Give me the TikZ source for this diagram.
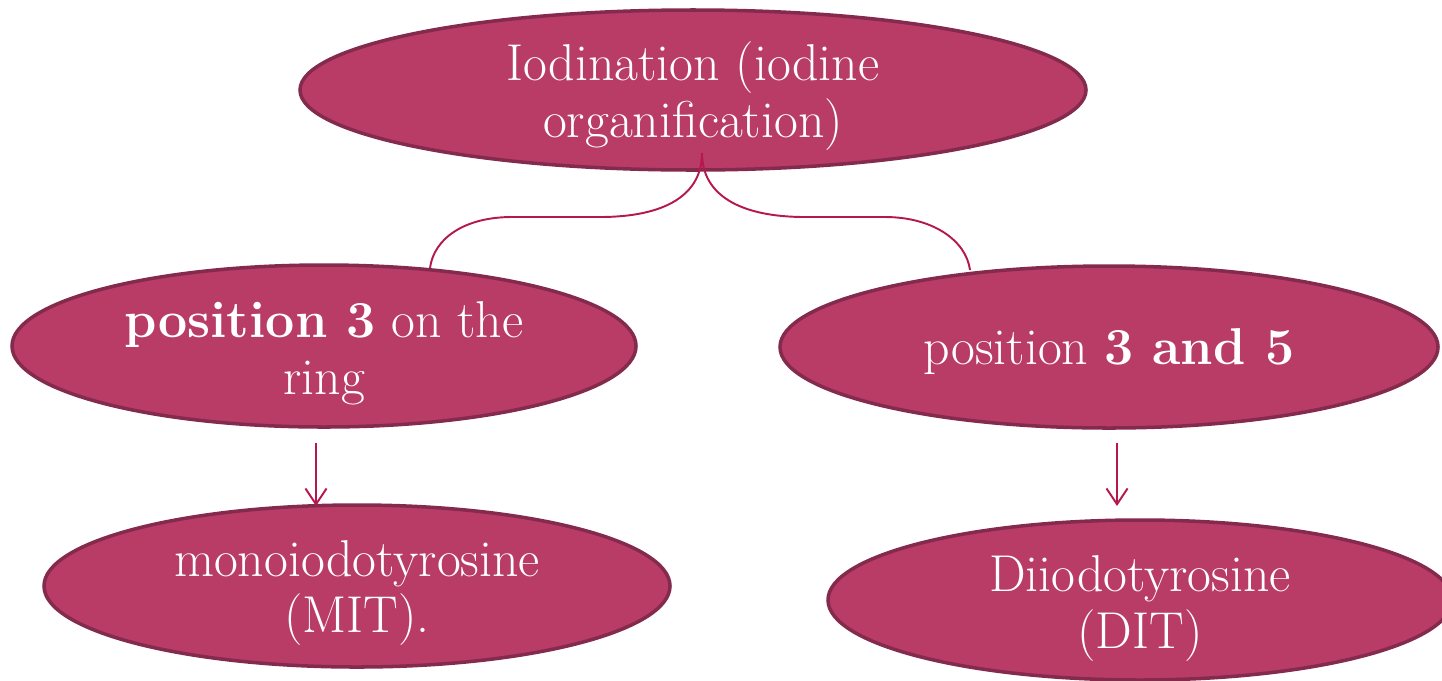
\documentclass[tikz,border=0pt]{standalone}
\usetikzlibrary{shapes.geometric,arrows.meta}
\definecolor{ellfill}{HTML}{B93C67}
\definecolor{elldraw}{HTML}{842A4D}
\definecolor{conn}{HTML}{B5174F}
\begin{document}
\begin{tikzpicture}[x=0.02cm,y=-0.02cm,
  ell/.style={ellipse, fill=ellfill, draw=elldraw, line width=2pt, inner sep=0pt},
  lbl/.style={text=white, align=center, inner sep=0pt, font=\fontsize{29.5}{32.3}\selectfont},
  link/.style={draw=conn, line width=1.1pt},
  arr/.style={draw=conn, line width=1.1pt, -{Straight Barb[length=9pt,width=12pt]}}]
\clip (0,0) rectangle (1442,680);
\node[ell, minimum width=786*0.02cm, minimum height=160*0.02cm] (top) at (693,90) {};
\node[ell, minimum width=624*0.02cm, minimum height=162*0.02cm] (left) at (324,346) {};
\node[ell, minimum width=658*0.02cm, minimum height=162*0.02cm] (right) at (1109,347) {};
\node[ell, minimum width=626*0.02cm, minimum height=162*0.02cm] (mit) at (357,586) {};
\node[ell, minimum width=624*0.02cm, minimum height=160*0.02cm] (dit) at (1140,600) {};
\node[lbl] (toptxt) at (693,96) {Iodination (iodine\\organification)};
\node[lbl] (lefttxt) at (324,353) {\textbf{position 3} on the\\ring};
\node[lbl] (righttxt) at (1109,352) {position \textbf{3 and 5}};
\node[lbl] (mittxt) at (357,593) {monoiodotyrosine\\(MIT).};
\node[lbl] (dittxt) at (1140,608.5) {Diiodotyrosine\\(DIT)};
\coordinate (tb) at (702,153);
\coordinate (lt) at (430,268);
\coordinate (rt) at (970,270);
\draw[link] (tb) .. controls (702,195) and (665,217) .. (600,217) -- (512,217)
  .. controls (465,217) and (434,238) .. (lt);
\draw[link] (tb) .. controls (702,195) and (740,217) .. (805,217) -- (885,217)
  .. controls (932,217) and (966,240) .. (rt);
\coordinate (a1) at (316,443);
\coordinate (b1) at (316,506);
\coordinate (a2) at (1117,443);
\coordinate (b2) at (1117,506);
\draw[arr] (a1) -- (b1);
\draw[arr] (a2) -- (b2);
\end{tikzpicture}
\end{document}
